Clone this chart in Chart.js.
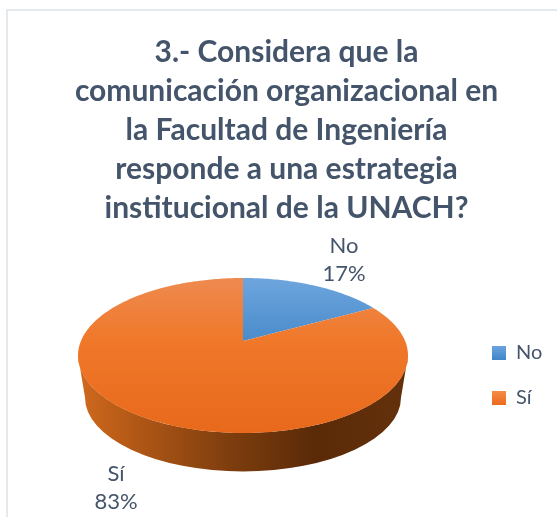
<!DOCTYPE html>
<html>
<head>
<meta charset="utf-8">
<title>UNACH</title>
<script src="https://cdn.jsdelivr.net/npm/chart.js@4"></script>
<style>
  html, body { margin: 0; padding: 0; background: #fff; overflow: hidden; }
  #wrap { position: relative; width: 557px; height: 517px; overflow: hidden; }
  #frame { position: absolute; left: 6px; top: 9px; width: 600px; height: 600px; border: 2px solid #e4e9ed; }
  #chart { position: absolute; left: 0; top: 0; }
</style>
</head>
<body>
<div id="wrap">
  <div id="frame"></div>
  <canvas id="chart" width="557" height="517"></canvas>
</div>
<script>
"use strict";

const categories = ["No", "Sí"];
const values = [17, 83];
const titleLines = [
  "3.- Considera que la",
  "comunicación organizacional en",
  "la Facultad de Ingeniería",
  "responde a una estrategia",
  "institucional de la UNACH?",
];

const TEXT = "#44546a";
const FONT = "Lato, 'Open Sans', sans-serif";

/* ---------------- 3D LOOK ---------------- */

const ASPECT = 165 / 77.5;   // the pie is laid out as a circle, then widened
const TILT = 0.187;          // how far the apex sits above the ellipse centre
const WALL = { drop: 42, rx: 158, ry: 74 };

const labelSpots = [{ x: 344, y: 246 }, { x: 116, y: 474 }];

const faceColors = [
  ["#6ea5de", "#4a8ccb", "#4384c4"],
  ["#ee8a50", "#f0782a", "#e8691c"],
];

// rim point for a slice angle, perspective keeps the rim on the ellipse
function rimPoint(arc, angle) {
  const th = angle + Math.PI / 2;
  const x = Math.sin(th), y = Math.cos(th);
  const d = 1 + TILT * y;
  return {
    x: arc.x + arc.outerRadius * ASPECT * Math.sqrt(1 - TILT * TILT) * x / d,
    y: arc.y - arc.outerRadius * (y + TILT) / d,
  };
}

function drawWall(ctx, arc) {
  const rx = arc.outerRadius * ASPECT;
  const x0 = arc.x - rx, x1 = arc.x + rx;
  const g = ctx.createLinearGradient(x0, 0, x1, 0);
  g.addColorStop(0, "#d0691e");
  g.addColorStop(0.12, "#bb5d18");
  g.addColorStop(0.45, "#7f3e0e");
  g.addColorStop(0.72, "#5a2a08");
  g.addColorStop(1, "#64310b");
  ctx.fillStyle = g;
  ctx.beginPath();
  ctx.ellipse(arc.x, arc.y, rx, arc.outerRadius, 0, Math.PI, 0, true);
  ctx.ellipse(arc.x, arc.y + WALL.drop, WALL.rx, WALL.ry, 0, 0, Math.PI, false);
  ctx.closePath();
  ctx.fill();
}

function drawFace(ctx, arc, stops) {
  const g = ctx.createLinearGradient(0, arc.y - arc.outerRadius, 0, arc.y + arc.outerRadius);
  g.addColorStop(0, stops[0]);
  g.addColorStop(0.4, stops[1]);
  g.addColorStop(1, stops[2]);
  ctx.fillStyle = g;

  const apexY = arc.y - arc.outerRadius * TILT;
  ctx.beginPath();
  ctx.moveTo(arc.x, apexY);
  const n = Math.ceil((arc.endAngle - arc.startAngle) * 60);
  for (let i = 0; i <= n; i++) {
    const p = rimPoint(arc, arc.startAngle + (arc.endAngle - arc.startAngle) * i / n);
    ctx.lineTo(p.x, p.y);
  }
  ctx.closePath();
  ctx.fill();
}

const pie3d = {
  id: "pie3d",
  afterLayout(chart) {
    // title and legend sit where the reference has them, not where the pie pushes them
    chart.titleBlock.left = 0;
    chart.titleBlock.right = 573;
    const legend = chart.legend;
    legend.left = 467;
    legend.right = 557;
    legend.top = 318;
    legend.bottom = 517;
  },
  beforeDatasetDraw(chart) {
    const ctx = chart.ctx;
    const arcs = chart.getDatasetMeta(0).data;
    ctx.save();
    drawWall(ctx, arcs[0]);
    arcs.forEach((arc, i) => drawFace(ctx, arc, faceColors[i]));

    const total = values.reduce((a, b) => a + b, 0);
    ctx.fillStyle = TEXT;
    ctx.font = "22px " + FONT;
    ctx.textAlign = "center";
    ctx.textBaseline = "middle";
    categories.forEach((name, i) => {
      const spot = labelSpots[i];
      ctx.fillText(name, spot.x, spot.y);
      ctx.fillText(Math.round(values[i] / total * 100) + "%", spot.x, spot.y + 28);
    });
    ctx.restore();
    return false;
  },
};

/* ---------------- CHART ---------------- */

const canvas = document.getElementById("chart");

function swatch(top, from, to) {
  const g = canvas.getContext("2d").createLinearGradient(0, top, 0, top + 14);
  g.addColorStop(0, from);
  g.addColorStop(1, to);
  return g;
}

const swatches = [swatch(346, "#6ba4df", "#3f85c8"), swatch(391, "#f68c47", "#ec6a1d")];

new Chart(canvas, {
  type: "pie",
  data: {
    labels: categories,
    datasets: [{ data: values, backgroundColor: faceColors.map(c => c[1]), borderWidth: 0 }],
  },
  options: {
    responsive: false,
    animation: false,
    layout: { padding: { left: 78, right: 149, top: 0, bottom: 84 } },
    plugins: {
      tooltip: { enabled: false },
      title: {
        display: true,
        text: titleLines,
        color: TEXT,
        font: { family: FONT, size: 30, weight: "bold", lineHeight: 39 / 30 },
        padding: { top: 33, bottom: 50 },
      },
      legend: {
        position: "chartArea",
        align: "start",
        labels: {
          boxWidth: 14,
          boxHeight: 14,
          padding: 25,
          color: TEXT,
          font: { family: FONT, size: 20 },
          generateLabels: () => categories.map((name, i) => ({
            text: name,
            fillStyle: swatches[i],
            strokeStyle: "rgba(0,0,0,0)",
            lineWidth: 0,
            fontColor: TEXT,
            index: i,
          })),
        },
      },
    },
  },
  plugins: [pie3d],
});
</script>
</body>
</html>
